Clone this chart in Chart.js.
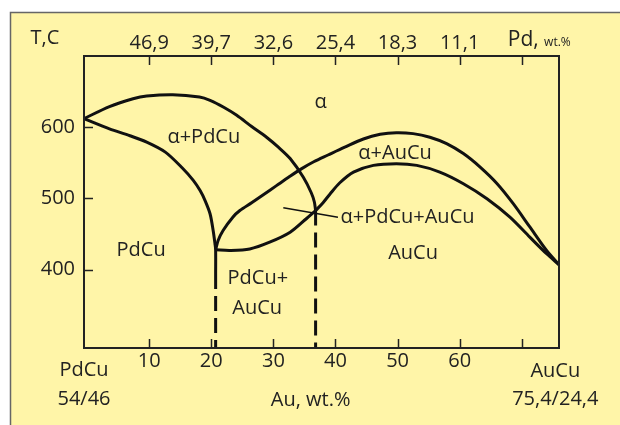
<!DOCTYPE html>
<html>
<head>
<meta charset="utf-8">
<script src="https://cdn.jsdelivr.net/npm/chart.js@4"></script>
<style>
  html, body { margin: 0; padding: 0; background: #fff; }
  canvas { display: block; }
</style>
</head>
<body>
<canvas id="diagram" width="620" height="425"></canvas>
<script>
// Au, wt.% vs T,C  -- Pd-Cu-Au section PdCu - AuCu
const auTicks = [10, 20, 30, 40, 50, 60, 70];
const auLabels = ['10', '20', '30', '40', '50', '60', ''];
const pdLabels = ['46,9', '39,7', '32,6', '25,4', '18,3', '11,1', ''];
const tempTicks = [400, 500, 600];

// phase boundaries, [Au wt.%, T]
const alphaTop = [[-0.5, 612], [3.6, 629], [7.4, 640], [9.6, 643.8], [13.8, 645.7], [18.1, 642.4], [19.8, 637.7],
  [22, 628], [24.1, 616.7], [26.5, 601], [28.9, 586], [30.8, 572], [32.7, 556], [34.8, 530], [36.1, 508], [36.6, 495], [36.8, 483]];
const pdcuSolvus = [[-0.5, 612], [3.6, 597.7], [6.9, 588], [9.6, 579], [12.6, 565], [15.3, 543], [17.1, 525.3],
  [18.2, 511], [19, 497], [19.8, 478.5], [20.3, 455], [20.6, 436], [20.7, 428], [20.7, 394]];
const aucuUpper = [[20.7, 428], [21.1, 441], [21.9, 455], [23.5, 474], [24.6, 483], [26.5, 494], [28.5, 506], [30.5, 518],
  [32.5, 530], [34.5, 541.5], [36.5, 551.5], [38.8, 561], [41.5, 572], [44.5, 583.5], [47.2, 590], [49.8, 592.3], [52.5, 591],
  [55.2, 586], [57.9, 577], [60.6, 563], [63.3, 544], [66, 521], [68.6, 493], [71.3, 460], [74, 427], [76, 407]];
const aucuLower = [[36.8, 483], [38, 494], [39.1, 506], [40.7, 522], [42.9, 537], [46.1, 546.4], [49.8, 548.8], [53.1, 546.4],
  [56.8, 537], [60.6, 520.7], [64.4, 499.6], [68.1, 473.7], [71.3, 445.6], [74, 422.3], [76, 407]];
const twoPhaseLow = [[20.7, 428], [23, 427], [26.2, 429], [29.4, 438.5], [32.7, 452.5], [35.3, 471.5], [36.8, 483]];
const leftDash = [[20.7, 394], [20.7, 290]];
const rightDash = [[36.8, 483], [36.8, 290]];
const leader = [[31.6, 487], [40.4, 473.7]];

const regionLabels = [
  { text: 'α', x: 37.6, y: 626.5 },
  { text: 'α+PdCu', x: 18.8, y: 577.3 },
  { text: 'α+AuCu', x: 49.6, y: 555.1 },
  { text: 'α+PdCu+AuCu', x: 51.6, y: 466.1 },
  { text: 'AuCu', x: 52.5, y: 414.5 },
  { text: 'PdCu', x: 8.7, y: 419.7 },
  { text: 'PdCu+', x: 27.5, y: 379.4 },
  { text: 'AuCu', x: 27.4, y: 337.2 }
];

const FONT = "'Open Sans', 'DejaVu Sans', sans-serif";
const INK = '#222';
Chart.defaults.font.family = FONT;

function curve(data, extra) {
  return Object.assign({
    data: data,
    borderColor: '#111',
    borderWidth: 3,
    pointRadius: 0,
    tension: 0.3,
    fill: false
  }, extra || {});
}

const paper = {
  id: 'paper',
  beforeDraw(chart) {
    const ctx = chart.ctx;
    ctx.save();
    ctx.fillStyle = '#fff';
    ctx.fillRect(0, 0, chart.width, chart.height);
    ctx.fillStyle = '#fff5a8';
    ctx.fillRect(10, 12, chart.width - 10, chart.height - 12);
    ctx.strokeStyle = '#666';
    ctx.lineWidth = 1.5;
    ctx.beginPath();
    ctx.moveTo(10.5, chart.height);
    ctx.lineTo(10.5, 12.5);
    ctx.lineTo(chart.width, 12.5);
    ctx.stroke();
    ctx.restore();
  },
  afterDraw(chart) {
    const ctx = chart.ctx;
    const a = chart.chartArea;
    const xs = chart.scales.x, ys = chart.scales.y;
    ctx.save();
    // frame
    ctx.strokeStyle = INK;
    ctx.lineWidth = 2;
    ctx.strokeRect(a.left, a.top, a.right - a.left, a.bottom - a.top);
    // inward ticks
    ctx.lineWidth = 1.5;
    ctx.beginPath();
    auTicks.forEach(v => {
      const px = Math.round(xs.getPixelForValue(v)) + 0.5;
      ctx.moveTo(px, a.bottom); ctx.lineTo(px, a.bottom - 9);
      ctx.moveTo(px, a.top); ctx.lineTo(px, a.top + 9);
    });
    tempTicks.forEach(v => {
      const py = Math.round(ys.getPixelForValue(v)) + 0.5;
      ctx.moveTo(a.left, py); ctx.lineTo(a.left + 9, py);
    });
    ctx.stroke();

    ctx.fillStyle = INK;
    ctx.textBaseline = 'alphabetic';
    ctx.textAlign = 'center';
    ctx.font = '20px ' + FONT;
    regionLabels.forEach(l => {
      ctx.fillText(l.text, xs.getPixelForValue(l.x), ys.getPixelForValue(l.y));
    });

    // axis captions
    ctx.fillText('T,C', 45, 44);
    const x0 = xs.getPixelForValue(-0.5), x1 = xs.getPixelForValue(75.4);
    ctx.fillText('PdCu', x0, 376);
    ctx.fillText('54/46', x0, 405);
    ctx.fillText('AuCu', x1, 377);
    ctx.fillText('75,4/24,4', x1, 405);
    ctx.fillText('Au, wt.%', xs.getPixelForValue(36), 406);
    ctx.textAlign = 'left';
    const pdX = xs.getPixelForValue(70) - 14;
    ctx.font = '21px ' + FONT;
    ctx.fillText('Pd,', pdX, 46);
    const w = ctx.measureText('Pd, ').width;
    ctx.font = '12px ' + FONT;
    ctx.fillText('wt.%', pdX + w, 46);
    ctx.restore();
  }
};

const tickFont = { family: FONT, size: 20 };

new Chart(document.getElementById('diagram'), {
  type: 'line',
  data: {
    datasets: [
      curve(alphaTop),
      curve(pdcuSolvus),
      curve(aucuUpper),
      curve(aucuLower),
      curve(twoPhaseLow),
      curve(leftDash, { borderDash: [15, 7], tension: 0 }),
      curve(rightDash, { borderDash: [15, 7], tension: 0 }),
      curve(leader, { borderWidth: 1.5, tension: 0 })
    ]
  },
  options: {
    responsive: false,
    animation: false,
    devicePixelRatio: 1,
    layout: { padding: { left: 0, top: 0, right: 61, bottom: 0 } },
    plugins: { legend: { display: false }, tooltip: { enabled: false } },
    scales: {
      x: {
        type: 'linear', position: 'bottom', min: -0.5, max: 76,
        afterBuildTicks: s => { s.ticks = auTicks.map(v => ({ value: v })); },
        afterFit: s => { s.height = 77; },
        grid: { display: false, drawTicks: false },
        border: { display: false },
        ticks: { autoSkip: false, maxRotation: 0, padding: 1, color: INK, font: tickFont,
          callback: (v, i) => auLabels[i] }
      },
      xTop: {
        type: 'linear', position: 'top', min: -0.5, max: 76,
        afterBuildTicks: s => { s.ticks = auTicks.map(v => ({ value: v })); },
        afterFit: s => { s.height = 56; },
        grid: { display: false, drawTicks: false },
        border: { display: false },
        ticks: { autoSkip: false, maxRotation: 0, padding: 1, color: INK, font: tickFont,
          callback: (v, i) => pdLabels[i] }
      },
      y: {
        type: 'linear', min: 290, max: 700,
        afterBuildTicks: s => { s.ticks = tempTicks.map(v => ({ value: v })); },
        afterFit: s => { s.width = 84; },
        grid: { display: false, drawTicks: false },
        border: { display: false },
        ticks: { padding: 9, color: INK, font: tickFont }
      }
    }
  },
  plugins: [paper]
});
</script>
</body>
</html>
